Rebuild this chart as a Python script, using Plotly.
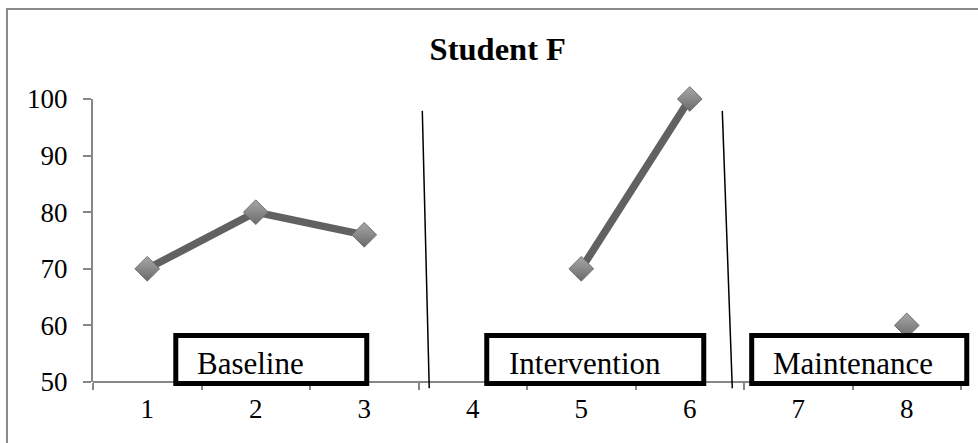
import plotly.graph_objects as go

# Session scores for Student F (None = no session recorded)
sessions = ["1", "2", "3", "4", "5", "6", "7", "8"]
scores = [70, 80, 76, None, 70, 100, None, 60]

# Phase labels and the category span each label box covers (0-based category index)
phase_names = ["Baseline", "Intervention", "Maintenance"]
phase_box_start = [0.263, 3.129, 5.571]
phase_box_end = [2.023, 5.129, 7.553]
phase_text_start = [0.442, 3.318, 5.751]

# Phase-change lines: (x at top, x at bottom) in category index units
phase_line_top_x = [2.535, 5.300]
phase_line_bottom_x = [2.599, 5.392]

SERIF = "Liberation Serif"
AXIS_GREY = "#878787"
Y_MIN, Y_MAX = 50, 100
N_CAT = len(sessions)


def xpaper(idx):
    """category index -> paper fraction of the plot area"""
    return (idx + 0.5) / N_CAT


def ypaper(val):
    """y value -> paper fraction of the plot area"""
    return (val - Y_MIN) / (Y_MAX - Y_MIN)


fig = go.Figure()

fig.add_trace(go.Scatter(
    x=sessions,
    y=scores,
    mode="lines+markers",
    line=dict(color="#616161", width=7.5),
    marker=dict(
        symbol="diamond",
        size=19,
        color="#a8a8a8",
        gradient=dict(type="vertical", color="#6a6a6a"),
        line=dict(color="#717171", width=1),
    ),
    connectgaps=False,
    cliponaxis=False,
    showlegend=False,
    hoverinfo="x+y",
))

shapes = []
annotations = []

# outer chart frame
shapes.append(dict(
    type="rect", xref="paper", yref="paper",
    x0=-0.0991, x1=1.04, y0=-0.35, y1=1.318,
    line=dict(color="#8a8a8a", width=2), fillcolor="rgba(0,0,0,0)",
    layer="below",
))

# horizontal axis line, drawn as a shape so the label boxes can sit on top of it
shapes.append(dict(
    type="line", xref="paper", yref="paper",
    x0=0, x1=1, y0=0, y1=0,
    line=dict(color=AXIS_GREY, width=2),
    layer="above",
))

# phase-change lines
for xt, xb in zip(phase_line_top_x, phase_line_bottom_x):
    shapes.append(dict(
        type="line", xref="paper", yref="paper",
        x0=xpaper(xt), y0=ypaper(97.9), x1=xpaper(xb), y1=ypaper(48.9),
        line=dict(color="black", width=1.5),
        layer="above",
    ))

# phase label boxes and their text
for name, x0, x1, xt in zip(phase_names, phase_box_start, phase_box_end, phase_text_start):
    shapes.append(dict(
        type="rect", xref="paper", yref="paper",
        x0=xpaper(x0), x1=xpaper(x1), y0=ypaper(49.75), y1=ypaper(58.2),
        line=dict(color="black", width=5),
        fillcolor="white",
        layer="above",
    ))
    annotations.append(dict(
        x=xpaper(xt), y=ypaper(53.3), xref="paper", yref="paper",
        text=name, showarrow=False,
        xanchor="left", yanchor="middle",
        font=dict(family=SERIF, size=31, color="black"),
    ))

fig.update_layout(
    width=978,
    height=443,
    margin=dict(l=93, r=17, t=99, b=61),
    paper_bgcolor="white",
    plot_bgcolor="white",
    title=dict(
        text="<b>Student F</b>",
        x=0.509, xref="container", xanchor="center",
        y=1 - 48.5 / 443, yref="container", yanchor="middle",
        font=dict(family=SERIF, size=32.5, color="black"),
    ),
    xaxis=dict(
        type="category",
        range=[-0.5, N_CAT - 0.5],
        showline=False,
        ticks="outside", tickson="boundaries", ticklen=7,
        tickcolor=AXIS_GREY, tickwidth=1.5,
        showgrid=False, zeroline=False,
        tickfont=dict(family=SERIF, size=27, color="black"),
        ticklabelstandoff=8,
    ),
    yaxis=dict(
        range=[Y_MIN, Y_MAX],
        tickvals=[50, 60, 70, 80, 90, 100],
        showline=True, linecolor=AXIS_GREY, linewidth=2,
        ticks="outside", ticklen=8, tickcolor=AXIS_GREY, tickwidth=1.5,
        showgrid=False, zeroline=False,
        tickfont=dict(family=SERIF, size=27, color="black"),
        ticklabelstandoff=10,
    ),
    shapes=shapes,
    annotations=annotations,
)

fig.write_html("out.html")
